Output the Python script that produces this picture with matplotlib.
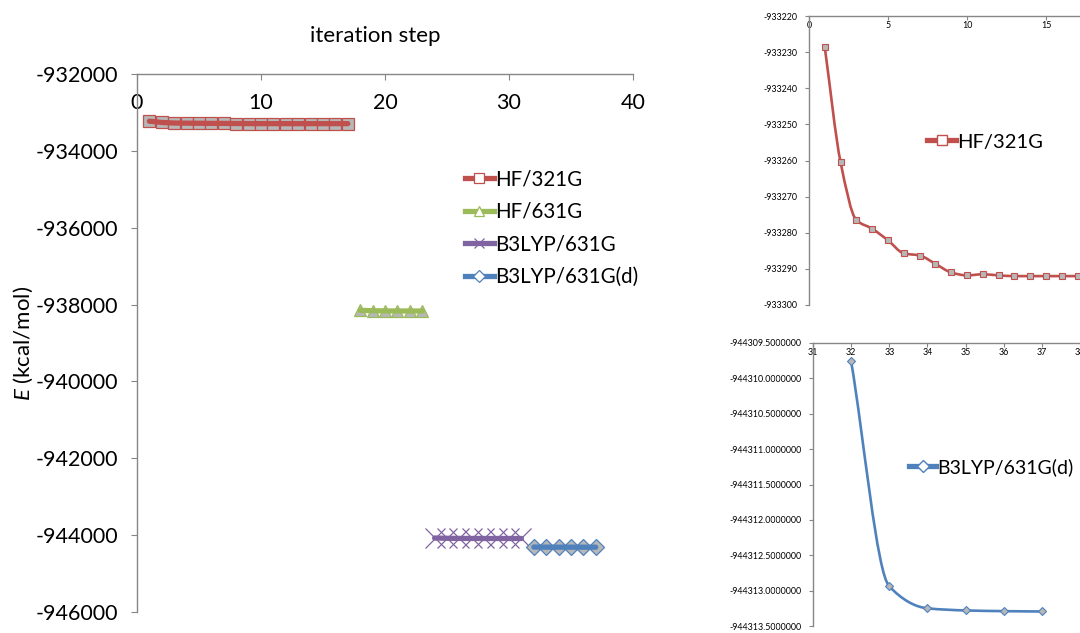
import numpy as np
import matplotlib
matplotlib.use("Agg")
import matplotlib.pyplot as plt
from matplotlib.path import Path
from matplotlib.patches import PathPatch
from matplotlib.lines import Line2D
from matplotlib.ticker import FormatStrFormatter

plt.rcParams['font.family'] = ['Lato', 'DejaVu Sans']
plt.rcParams['mathtext.fontset'] = 'custom'
plt.rcParams['mathtext.it'] = 'Lato:italic'
plt.rcParams['mathtext.rm'] = 'Lato'

# ---- data ----
labels = ['HF/321G', 'HF/631G', 'B3LYP/631G', 'B3LYP/631G(d)']

x_hf321 = list(range(1, 18))
e_hf321 = [-933228.7, -933260.5, -933276.5, -933278.9, -933282.1, -933285.7,
           -933286.3, -933288.6, -933291.0, -933291.8, -933291.5, -933291.8,
           -933292.0, -933292.0, -933292.0, -933292.0, -933292.0]

x_hf631 = list(range(18, 24))
e_hf631 = [-938150, -938160, -938165, -938167, -938168, -938168]

x_b3 = list(range(24, 32))
e_b3 = [-944075, -944082, -944085, -944086, -944087, -944087, -944087, -944087]

x_b3d = list(range(32, 38))
e_b3d = [-944309.76, -944312.94, -944313.25, -944313.28, -944313.29, -944313.295]

colors = ['#C0504D', '#9BBB59', '#8064A2', '#4F81BD']
markers = ['s', '^', 'x', 'D']
msizes = [9, 9, 15, 8.5]
face = '#B7B7B7'
spine_c = '#868686'

W, H = 1080, 633
fig = plt.figure(figsize=(W / 100, H / 100), dpi=100)


def px_axes(left, top, right, bottom):
    return fig.add_axes([left / W, 1 - bottom / H, (right - left) / W, (bottom - top) / H])


def style_axes(ax, lsize, xpad, ylen=4.5, ypad=5):
    for s in ['right', 'bottom']:
        ax.spines[s].set_visible(False)
    for s in ['left', 'top']:
        ax.spines[s].set_color(spine_c)
        ax.spines[s].set_linewidth(1.0)
    ax.xaxis.tick_top()
    ax.tick_params(axis='x', top=True, bottom=False, labeltop=True, labelbottom=False,
                   direction='in', length=ylen, color=spine_c, labelsize=lsize, pad=xpad)
    ax.tick_params(axis='y', direction='out', length=ylen, color=spine_c, labelsize=lsize, pad=ypad)


def smooth(ax, x, y, color, lw):
    # smoothed line through the points, monotone tangents so it does not overshoot
    x = np.asarray(x, float)
    y = np.asarray(y, float)
    h = np.diff(x)
    d = np.diff(y) / h
    m = np.zeros_like(y)
    m[0], m[-1] = d[0], d[-1]
    for k in range(1, len(y) - 1):
        if d[k - 1] * d[k] > 0:
            m[k] = 2 / (1 / d[k - 1] + 1 / d[k])
    verts = [(x[0], y[0])]
    codes = [Path.MOVETO]
    for k in range(len(x) - 1):
        verts += [(x[k] + h[k] / 3, y[k] + m[k] * h[k] / 3),
                  (x[k + 1] - h[k] / 3, y[k + 1] - m[k + 1] * h[k] / 3),
                  (x[k + 1], y[k + 1])]
        codes += [Path.CURVE4] * 3
    ax.add_patch(PathPatch(Path(verts, codes), fill=False, edgecolor=color, lw=lw,
                           capstyle='round', joinstyle='round'))


# ---- main chart ----
ax = px_axes(137, 74, 633, 612)
series = [(x_hf321, e_hf321), (x_hf631, e_hf631), (x_b3, e_b3), (x_b3d, e_b3d)]
handles = []
for (xs, ys), c, m, ms in zip(series, colors, markers, msizes):
    if m == 'x':
        ax.plot(xs, ys, ls='none', marker=m, ms=ms, mew=0.9, mec=c)
    else:
        ax.plot(xs, ys, ls='none', marker=m, ms=ms, mfc=face, mec=c, mew=0.9)
    ax.plot(xs, ys, color=c, lw=3.8, solid_capstyle='round')
    handles.append(Line2D([], [], color=c, lw=3.8, marker=m, ms=6.5,
                          mfc='white', mec=c, mew=0.9))

ax.set_xlim(0, 40)
ax.set_ylim(-946000, -932000)
ax.set_xticks([0, 10, 20, 30, 40])
ax.set_yticks(np.arange(-946000, -931999, 2000))
ax.yaxis.set_major_formatter(FormatStrFormatter('%d'))
style_axes(ax, 15.5, -28, ypad=9)
ax.set_ylabel('$E$ (kcal/mol)', fontsize=16)
ax.yaxis.set_label_coords(-0.205, 0.5)
fig.text(375 / W, 1 - 36 / H, 'iteration step', ha='center', va='center', fontsize=16)

ax.legend(handles, labels, loc='upper left', bbox_to_anchor=(465 / W, 1 - 169 / H),
          bbox_transform=fig.transFigure, frameon=False, fontsize=14.8,
          handlelength=1.4, handletextpad=0.05, labelspacing=0.62, borderpad=0,
          borderaxespad=0)

# ---- inset: HF/321G ----
a1 = px_axes(809, 16, 1125, 305)
smooth(a1, x_hf321, e_hf321, colors[0], 1.9)
a1.plot(x_hf321, e_hf321, ls='none', marker='s', ms=5, mfc=face, mec=colors[0], mew=0.8)
a1.set_xlim(0, 20)
a1.set_ylim(-933300, -933220)
a1.set_xticks([0, 5, 10, 15])
a1.set_yticks(np.arange(-933300, -933219, 10))
a1.yaxis.set_major_formatter(FormatStrFormatter('%d'))
style_axes(a1, 6.4, -10, ylen=3)
a1.legend([Line2D([], [], color=colors[0], lw=3.8, marker='s', ms=7, mfc='white',
                  mec=colors[0], mew=1.0)], [labels[0]],
          loc='center left', bbox_to_anchor=(927 / W, 1 - 142 / H),
          bbox_transform=fig.transFigure, frameon=False, fontsize=14.5,
          handlelength=1.45, handletextpad=0.05, borderpad=0, borderaxespad=0)

# ---- inset: B3LYP/631G(d) ----
a2 = px_axes(813, 343, 1080, 626)
smooth(a2, x_b3d, e_b3d, colors[3], 1.9)
a2.plot(x_b3d, e_b3d, ls='none', marker='D', ms=4.5, mfc=face, mec=colors[3], mew=0.8)
a2.set_xlim(31, 38)
a2.set_ylim(-944313.5, -944309.5)
a2.set_xticks(range(31, 39))
a2.set_yticks(np.arange(-944313.5, -944309.4, 0.5))
a2.yaxis.set_major_formatter(FormatStrFormatter('%.7f'))
style_axes(a2, 6.4, -10, ylen=3)
a2.legend([Line2D([], [], color=colors[3], lw=3.8, marker='D', ms=6, mfc='white',
                  mec=colors[3], mew=1.0)], [labels[3]],
          loc='center left', bbox_to_anchor=(909 / W, 1 - 467 / H),
          bbox_transform=fig.transFigure, frameon=False, fontsize=14,
          handlelength=1.4, handletextpad=0.05, borderpad=0, borderaxespad=0)

fig.savefig('out.png', dpi=100)
